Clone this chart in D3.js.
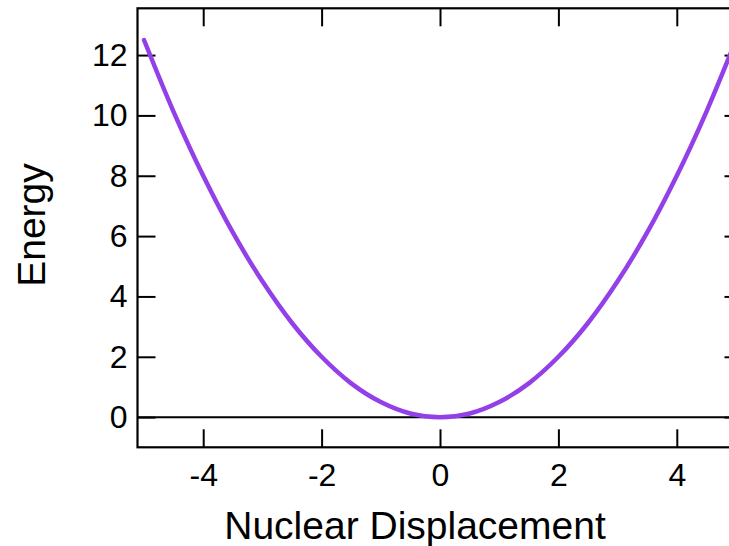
<!DOCTYPE html>
<html>
<head>
<meta charset="utf-8">
<script src="https://cdn.jsdelivr.net/npm/d3@7"></script>
<style>
  body { margin: 0; background: #fff; }
  text { font-family: "Liberation Sans", Arial, sans-serif; fill: #000; }
</style>
</head>
<body>
<div id="chart"></div>
<script>
// data
const displacement = [-5, -4.5, -4, -3.5, -3, -2.5, -2, -1.5, -1, -0.5, 0, 0.5, 1, 1.5, 2, 2.5, 3, 3.5, 4, 4.5, 5]
const energy = [12.5, 10.12, 8, 6.12, 4.5, 3.12, 2, 1.12, 0.5, 0.12, 0, 0.12, 0.5, 1.12, 2, 3.12, 4.5, 6.12, 8, 10.12, 12.5]
const xTicks = [-4, -2, 0, 2, 4]
const yTicks = [0, 2, 4, 6, 8, 10, 12]

var width = 729,
    height = 546

const svg = d3.select("#chart")
  .append("svg")
    .attr("width", width)
    .attr("height", height)

// plot box (right edge lies past the window)
const plotLeft = 137.5, plotRight = 742.5, plotTop = 8.3, plotBottom = 447.3

const x = d3.scaleLinear().domain([-5.11, 5.11]).range([plotLeft, plotRight])
const y = d3.scaleLinear().domain([-1, 13.55]).range([plotBottom, plotTop])

svg.append("clipPath")
    .attr("id", "plot")
  .append("rect")
    .attr("x", plotLeft).attr("y", plotTop)
    .attr("width", plotRight - plotLeft).attr("height", plotBottom - plotTop)

const tickLen = 18
const fmt = d => String(d)   // plain hyphen minus, as in the reference

// bottom axis, ticks inside
svg.append("g")
    .attr("transform", `translate(0,${plotBottom})`)
    .call(d3.axisBottom(x).tickValues(xTicks).tickFormat(fmt).tickSizeInner(-tickLen).tickSizeOuter(0).tickPadding(16))
    .call(g => g.select(".domain").remove())
    .call(g => g.selectAll("line").attr("stroke-width", 2))
    .call(g => g.selectAll("text").attr("font-size", 32).attr("font-family", "Liberation Sans, Arial, sans-serif"))

// top ticks
svg.append("g")
    .attr("transform", `translate(0,${plotTop})`)
    .call(d3.axisTop(x).tickValues(xTicks).tickSizeInner(-tickLen).tickSizeOuter(0).tickFormat(""))
    .call(g => g.select(".domain").remove())
    .call(g => g.selectAll("line").attr("stroke-width", 2))

// left axis, ticks inside
svg.append("g")
    .attr("transform", `translate(${plotLeft},0)`)
    .call(d3.axisLeft(y).tickValues(yTicks).tickFormat(fmt).tickSizeInner(-tickLen).tickSizeOuter(0).tickPadding(10))
    .call(g => g.select(".domain").remove())
    .call(g => g.selectAll("line").attr("stroke-width", 2))
    .call(g => g.selectAll("text").attr("font-size", 32).attr("font-family", "Liberation Sans, Arial, sans-serif"))
    .call(g => g.selectAll("text").attr("x", -10))

// right ticks
svg.append("g")
    .attr("transform", `translate(${plotRight},0)`)
    .call(d3.axisRight(y).tickValues(yTicks).tickSizeInner(-tickLen).tickSizeOuter(0).tickFormat(""))
    .call(g => g.select(".domain").remove())
    .call(g => g.selectAll("line").attr("stroke-width", 2))

// zero line
svg.append("line")
    .attr("x1", plotLeft).attr("x2", plotRight)
    .attr("y1", y(0)).attr("y2", y(0))
    .attr("stroke", "#000")
    .attr("stroke-width", 2)

// frame
svg.append("rect")
    .attr("x", plotLeft).attr("y", plotTop)
    .attr("width", plotRight - plotLeft).attr("height", plotBottom - plotTop)
    .attr("fill", "none")
    .attr("stroke", "#000")
    .attr("stroke-width", 2.2)

// potential curve
const line = d3.line()
    .x((d, i) => x(displacement[i]))
    .y(d => y(d))
    .curve(d3.curveCatmullRom)

svg.append("path")
    .datum(energy)
    .attr("clip-path", "url(#plot)")
    .attr("fill", "none")
    .attr("stroke", "#9340e8")
    .attr("stroke-width", 4.5)
    .attr("stroke-linecap", "round")
    .attr("d", line)

// axis titles
svg.append("text")
    .attr("x", 415)
    .attr("y", 539)
    .attr("text-anchor", "middle")
    .attr("font-size", 39)
    .text("Nuclear Displacement")

svg.append("text")
    .attr("transform", "translate(45,225) rotate(-90)")
    .attr("text-anchor", "middle")
    .attr("font-size", 39)
    .text("Energy")
</script>
</body>
</html>
